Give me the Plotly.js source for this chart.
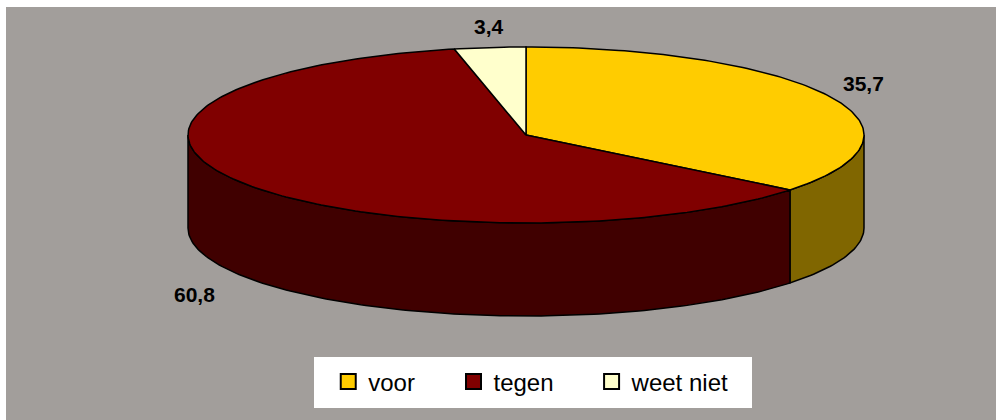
<!DOCTYPE html>
<html>
<head>
<meta charset="utf-8">
<script src="https://cdn.plot.ly/plotly-3.0.1.min.js"></script>
<style>html,body{margin:0;padding:0;background:#fff;}#chart{width:996px;height:420px;}</style>
</head>
<body>
<div id="chart"></div>
<script>
// ---- data ----
const categories = ['voor', 'tegen', 'weet niet'];
const values = [35.7, 60.8, 3.4];
const valueLabels = ['35,7', '60,8', '3,4'];

// ---- style ----
const topColors = ['#FFCC00', '#800000', '#FFFFCC'];
const sideColors = ['#806600', '#400000', '#808066'];
const bg = '#A29E9B';
const geo = {cx: 526, cy: 135, rx: 338, ry: 88, depth: 93};
const font = 'Arial, "Liberation Sans", sans-serif';

function pt(deg, dz) {
  const r = deg * Math.PI / 180;
  return [geo.cx + geo.rx * Math.sin(r), geo.cy - geo.ry * Math.cos(r) + dz];
}
function arc(a0, a1, dz) {
  const xs = [], ys = [];
  const n = Math.max(2, Math.ceil(Math.abs(a1 - a0)));
  for (let i = 0; i <= n; i++) {
    const p = pt(a0 + (a1 - a0) * i / n, dz);
    xs.push(p[0]); ys.push(p[1]);
  }
  return [xs, ys];
}

const total = values.reduce((a, b) => a + b, 0);
const starts = [], ends = [];
let acc = 0;
values.forEach(v => { starts.push(acc / total * 360); acc += v; ends.push(acc / total * 360); });

const traces = [];
// side walls (front half only)
values.forEach((v, i) => {
  const s0 = Math.max(starts[i], 90), s1 = Math.min(ends[i], 270);
  if (s1 <= s0) return;
  const top = arc(s0, s1, 0), bot = arc(s1, s0, geo.depth);
  traces.push({
    type: 'scatter', mode: 'lines', x: top[0].concat(bot[0], [top[0][0]]),
    y: top[1].concat(bot[1], [top[1][0]]), fill: 'toself', fillcolor: sideColors[i],
    line: {color: '#000', width: 1.5}, hoverinfo: 'skip', showlegend: false
  });
});
// top faces
values.forEach((v, i) => {
  const a = arc(starts[i], ends[i], 0);
  traces.push({
    type: 'scatter', mode: 'lines', x: [geo.cx].concat(a[0], [geo.cx]),
    y: [geo.cy].concat(a[1], [geo.cy]), fill: 'toself', fillcolor: topColors[i],
    line: {color: '#000', width: 1.5}, hoverinfo: 'skip', showlegend: false
  });
});
// legend entries
const legendKeys = ['legend', 'legend2', 'legend3'];
categories.forEach((c, i) => {
  traces.push({
    type: 'scatter', mode: 'markers', x: [null], y: [null], name: c,
    marker: {symbol: 'square', size: 15, color: topColors[i], line: {color: '#000', width: 2}},
    legend: legendKeys[i], showlegend: true, hoverinfo: 'skip'
  });
});

// value labels
const annotations = values.map((v, i) => {
  const mid = (starts[i] + ends[i]) / 2;
  const s = Math.sin(mid * Math.PI / 180), c = Math.cos(mid * Math.PI / 180);
  const lower = c < 0;
  const p = pt(mid, lower ? geo.depth : 0);
  const dx = (lower ? 26 : 12) * s;
  const dy = lower ? 7 : -8 * Math.pow(c, 4);
  return {
    x: p[0] + dx, y: p[1] + dy, xref: 'x', yref: 'y', showarrow: false,
    text: valueLabels[i],
    xanchor: s > 0.3 ? 'left' : (s < -0.3 ? 'right' : 'center'),
    yanchor: lower ? 'top' : 'bottom',
    font: {family: font, size: 21, color: '#000', weight: 'bold'}
  };
});

const legendPos = [0.3255, 0.452, 0.5915];
const layout = {
  width: 996, height: 420,
  margin: {l: 6, r: 0, t: 7, b: 0},
  paper_bgcolor: '#fff', plot_bgcolor: bg,
  xaxis: {range: [6, 996], visible: false, fixedrange: true},
  yaxis: {range: [420, 7], visible: false, fixedrange: true},
  shapes: [{type: 'rect', xref: 'x', yref: 'y', x0: 314, x1: 752, y0: 357, y1: 408,
    fillcolor: '#fff', line: {width: 0}, layer: 'below'}],
  annotations: annotations,
  showlegend: true
};
legendKeys.forEach((k, i) => {
  layout[k] = {x: legendPos[i], xanchor: 'left', y: 0.092, yanchor: 'middle',
    bgcolor: 'rgba(0,0,0,0)', borderwidth: 0, itemwidth: 30,
    font: {family: font, size: 24, color: '#000'}};
});

Plotly.newPlot('chart', traces, layout, {staticPlot: true, displayModeBar: false});
</script>
</body>
</html>
